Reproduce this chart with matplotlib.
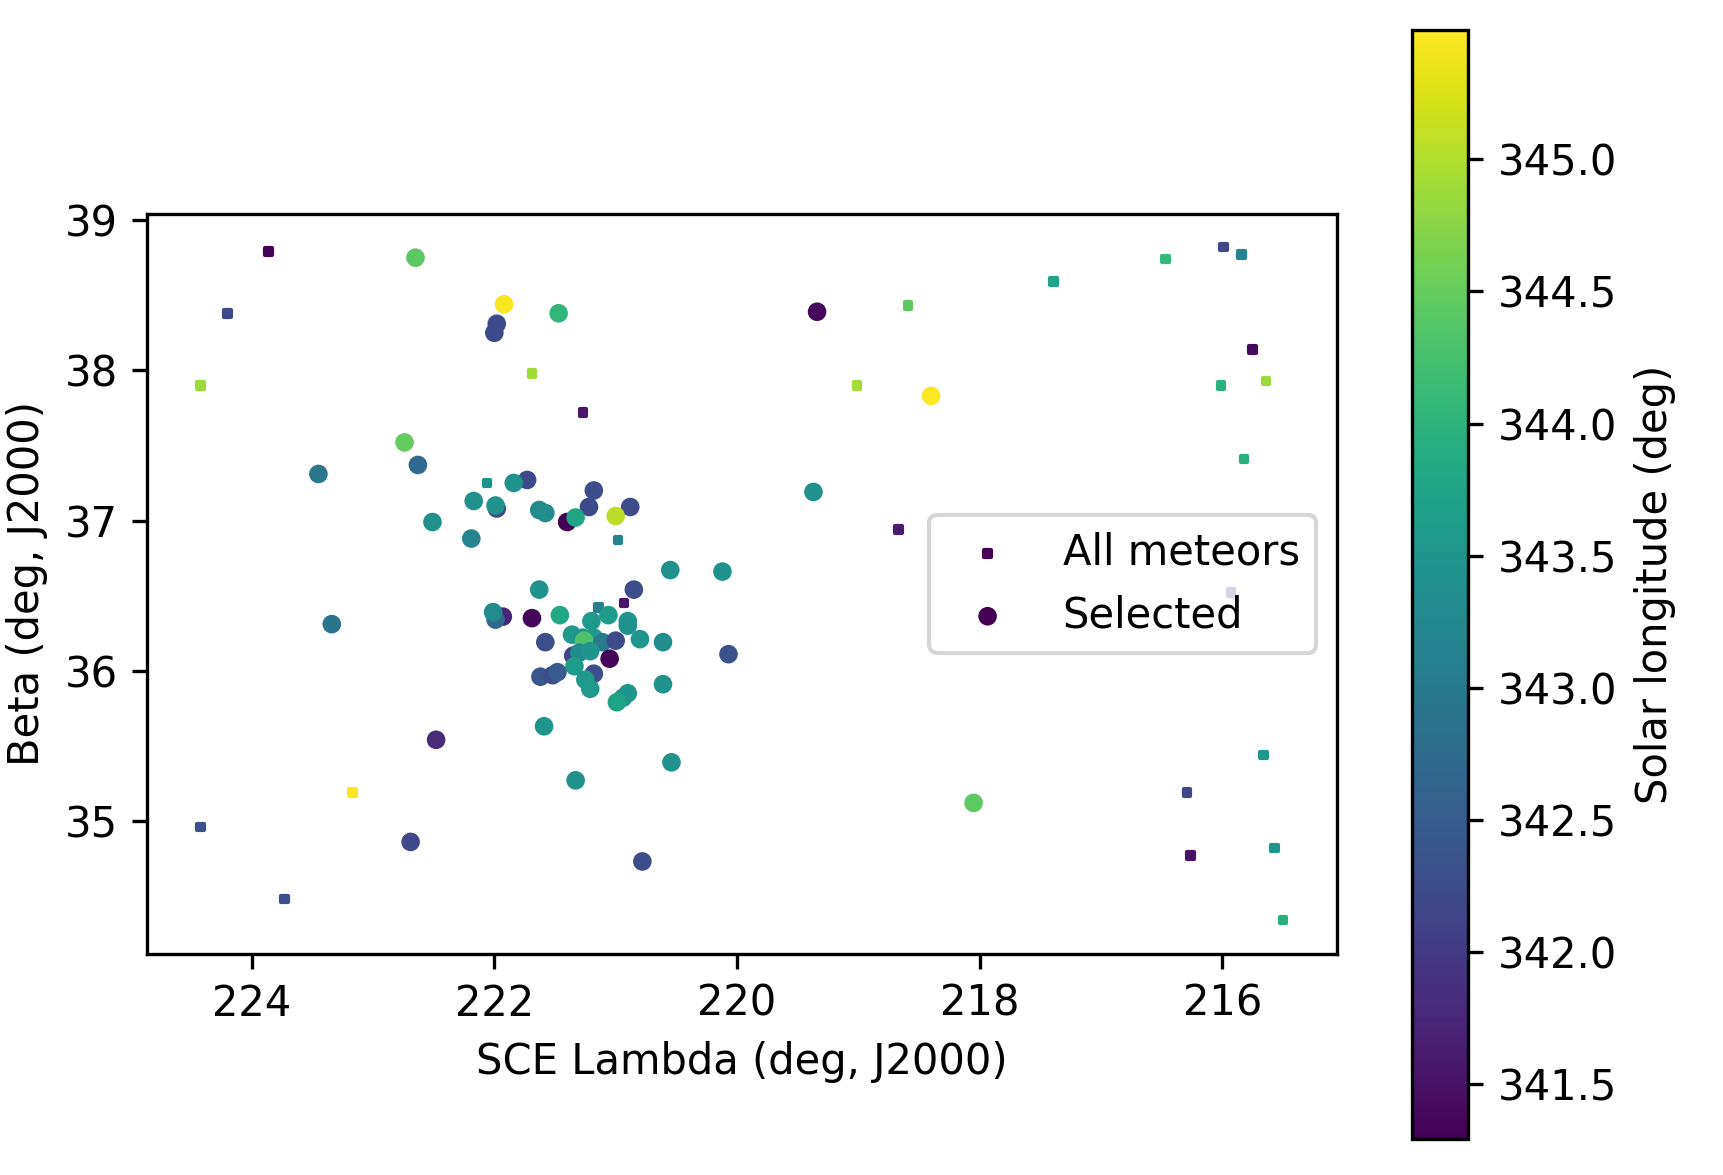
import numpy as np
import matplotlib
matplotlib.use("Agg")
import matplotlib.pyplot as plt

# all meteors not in the selection (lambda, beta, solar longitude)
all_lam = [223.86, 224.20, 224.42, 221.69, 221.27, 222.06, 220.98, 221.14, 220.93, 223.17,
           224.42, 223.73, 218.67, 219.01, 218.59, 217.39, 216.47, 215.99, 215.84, 215.75,
           216.01, 215.64, 215.82, 215.93, 215.66, 216.29, 216.26, 215.57, 215.50]
all_beta = [38.79, 38.38, 37.90, 37.98, 37.72, 37.25, 36.87, 36.42, 36.45, 35.19,
            34.96, 34.48, 36.94, 37.90, 38.43, 38.59, 38.74, 38.82, 38.77, 38.14,
            37.90, 37.93, 37.41, 36.52, 35.44, 35.19, 34.77, 34.82, 34.34]
all_sol = [341.32, 342.20, 344.86, 344.90, 341.55, 343.42, 343.20, 343.05, 341.55, 345.49,
           342.30, 342.30, 341.60, 344.93, 344.45, 343.75, 344.08, 342.20, 343.15, 341.40,
           343.97, 344.88, 343.95, 341.80, 343.50, 342.20, 341.50, 343.50, 343.95]

# selected meteors
sel_lam = [221.40, 222.65, 221.92, 221.98, 222.00, 221.47, 219.34, 218.40, 222.74, 222.63,
           223.45, 221.73, 221.84, 222.17, 221.98, 221.99, 222.51, 222.19, 221.63, 221.58,
           221.18, 221.22, 220.88, 221.33, 221.00, 219.37, 220.55, 220.12, 221.63, 220.85,
           221.93, 221.99, 222.01, 221.69, 221.46, 221.20, 221.06, 220.90, 220.90, 221.36,
           221.27, 221.18, 221.26, 221.11, 221.00, 220.80, 220.61, 221.58, 220.07, 221.35,
           221.30, 221.21, 221.05, 221.34, 221.18, 221.62, 221.52, 221.48, 221.25, 221.21,
           220.61, 220.90, 220.94, 220.99, 221.59, 222.48, 223.34, 220.54, 221.33, 220.78,
           218.05, 222.69]
sel_beta = [36.99, 38.75, 38.44, 38.31, 38.25, 38.38, 38.39, 37.83, 37.52, 37.37,
            37.31, 37.27, 37.25, 37.13, 37.08, 37.10, 36.99, 36.88, 37.07, 37.05,
            37.20, 37.09, 37.09, 37.02, 37.03, 37.19, 36.67, 36.66, 36.54, 36.54,
            36.36, 36.34, 36.39, 36.35, 36.37, 36.33, 36.37, 36.33, 36.30, 36.24,
            36.22, 36.22, 36.20, 36.19, 36.20, 36.21, 36.19, 36.19, 36.11, 36.10,
            36.12, 36.13, 36.08, 36.03, 35.98, 35.96, 35.97, 35.99, 35.94, 35.88,
            35.91, 35.85, 35.82, 35.79, 35.63, 35.54, 36.31, 35.39, 35.27, 34.73,
            35.12, 34.86]
sel_sol = [341.29, 344.44, 345.45, 342.22, 342.22, 344.05, 341.38, 345.49, 344.50, 342.72,
           342.95, 342.22, 343.42, 343.40, 342.25, 343.45, 343.40, 343.18, 343.30, 343.35,
           342.25, 342.22, 342.25, 343.78, 345.05, 343.40, 343.42, 343.42, 343.45, 342.25,
           341.72, 342.70, 343.30, 341.35, 343.80, 343.55, 343.60, 343.45, 343.45, 343.55,
           343.50, 343.55, 344.32, 343.00, 342.25, 343.50, 343.35, 342.30, 342.35, 342.15,
           343.30, 343.50, 341.35, 343.60, 342.30, 342.40, 342.25, 342.50, 343.55, 343.55,
           343.40, 343.50, 343.50, 343.75, 343.50, 341.80, 342.90, 343.45, 343.40, 342.25,
           344.45, 342.20]

vmin = min(all_sol + sel_sol)
vmax = max(all_sol + sel_sol)

fig = plt.figure(figsize=(1723 / 300, 1175 / 300), dpi=300)
ax = fig.add_axes([0.0853, 0.1885, 0.6908, 0.6294])
cax = fig.add_axes([0.8193, 0.0304, 0.0329, 0.9441])

ax.scatter(all_lam, all_beta, c=all_sol, marker="s", s=2.5,
           cmap="viridis", vmin=vmin, vmax=vmax, label="All meteors")
sc = ax.scatter(sel_lam, sel_beta, c=sel_sol, marker="o", s=12,
                cmap="viridis", vmin=vmin, vmax=vmax, label="Selected")

ax.set_xlim(224.863, 215.053)
ax.set_ylim(34.117, 39.041)
ax.set_xlabel("SCE Lambda (deg, J2000)")
ax.set_ylabel("Beta (deg, J2000)")
ax.legend(loc="center right")

fig.colorbar(sc, cax=cax, label="Solar longitude (deg)")

fig.savefig("out.png", dpi=300)
